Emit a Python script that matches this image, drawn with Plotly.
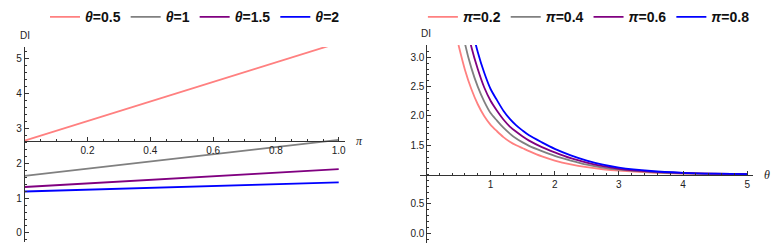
import plotly.graph_objects as go

# ---------------- data ----------------
# Left panel: DI vs pi for several theta
pi_vals = [0.0, 1.0]
left_names = ["θ=0.5", "θ=1", "θ=1.5", "θ=2"]
di_theta05 = [2.65, 5.46]
di_theta1 = [1.64, 2.67]
di_theta15 = [1.32, 1.83]
di_theta2 = [1.19, 1.45]

# Right panel: DI vs theta for several pi
theta_vals = [0.5, 0.6, 0.7, 0.8, 0.9, 1.0, 1.1, 1.2, 1.3, 1.4, 1.5, 1.6, 1.8, 2.0,
              2.25, 2.5, 2.75, 3.0, 3.5, 4.0, 4.5, 5.0]
right_names = ["π=0.2", "π=0.4", "π=0.6", "π=0.8"]
di_pi02 = [3.21, 2.79, 2.46, 2.20, 2.00, 1.85, 1.74, 1.64, 1.56, 1.50, 1.45, 1.40, 1.31, 1.24,
           1.175, 1.127, 1.092, 1.067, 1.035, 1.019, 1.010, 1.005]
di_pi04 = [3.90, 3.24, 2.82, 2.50, 2.25, 2.05, 1.92, 1.80, 1.70, 1.615, 1.55, 1.49, 1.40, 1.32,
           1.24, 1.17, 1.12, 1.085, 1.045, 1.024, 1.013, 1.007]
di_pi06 = [4.50, 3.69, 3.18, 2.80, 2.49, 2.26, 2.09, 1.94, 1.82, 1.73, 1.65, 1.58, 1.47, 1.38,
           1.28, 1.205, 1.145, 1.10, 1.053, 1.028, 1.015, 1.008]
di_pi08 = [5.10, 4.20, 3.55, 3.09, 2.74, 2.46, 2.27, 2.09, 1.95, 1.84, 1.75, 1.67, 1.55, 1.44,
           1.33, 1.24, 1.17, 1.12, 1.062, 1.032, 1.017, 1.009]

colors = ["#ff8080", "#808080", "#800080", "#0000ff"]

left_series = [di_theta05, di_theta1, di_theta15, di_theta2]
right_series = [di_pi02, di_pi04, di_pi06, di_pi08]

left_xticks = [0.2, 0.4, 0.6, 0.8, 1.0]
left_xticklabels = ["0.2", "0.4", "0.6", "0.8", "1.0"]
left_yticks = [0, 1, 2, 3, 4, 5]
right_xticks = [1, 2, 3, 4, 5]
right_yticks = [0.0, 0.5, 1.5, 2.0, 2.5, 3.0]
right_yticklabels = ["0.0", "0.5", "1.5", "2.0", "2.5", "3.0"]

# ---------------- layout geometry ----------------
W, H = 780, 247
lx_dom = [24.7 / W, 345 / W]
ly_dom = [1 - 242 / H, 1 - 47 / H]
rx_dom = [420 / W, 753 / W]
ry_dom = [1 - 243 / H, 1 - 45 / H]
lx_rng = [0.0, 1.02]
ly_rng = [-0.26, 5.34]
rx_rng = [-0.10, 5.09]
ry_rng = [-0.165, 3.21]
left_cross_y = 2.65
right_cross_y = 1.0


def frac(v, rng, dom):
    return dom[0] + (v - rng[0]) / (rng[1] - rng[0]) * (dom[1] - dom[0])


fig = go.Figure()
for name, ys, c in zip(left_names, left_series, colors):
    fig.add_trace(go.Scatter(x=pi_vals, y=ys, mode="lines", name="<b><i>θ</i>=" + name.split("=")[1] + "</b>",
                             line=dict(color=c, width=1.8), xaxis="x", yaxis="y", legend="legend"))
for name, ys, c in zip(right_names, right_series, colors):
    fig.add_trace(go.Scatter(x=theta_vals, y=ys, mode="lines", name="<b><i>π</i>=" + name.split("=")[1] + "</b>",
                             line=dict(color=c, width=1.8, shape="spline", smoothing=0.8),
                             xaxis="x2", yaxis="y2", legend="legend2"))

tickfont = dict(family="Liberation Sans, Arial, sans-serif", size=10, color="#222")
axcommon = dict(showline=True, linecolor="#333", linewidth=1, showgrid=False, zeroline=False,
                ticks="inside", ticklen=4, tickcolor="#333", tickfont=tickfont, fixedrange=True)

fig.update_layout(
    width=W, height=H,
    margin=dict(l=0, r=0, t=0, b=0),
    paper_bgcolor="white", plot_bgcolor="white",
    font=dict(family="Liberation Sans, Arial, sans-serif"),
    xaxis=dict(domain=lx_dom, range=lx_rng, anchor="free", position=frac(left_cross_y, ly_rng, ly_dom),
               tickmode="array", tickvals=left_xticks, ticktext=left_xticklabels,
               minor=dict(ticks="inside", ticklen=2, tickmode="linear", tick0=0, dtick=0.05, tickcolor="#333"),
               **axcommon),
    yaxis=dict(domain=ly_dom, range=ly_rng, anchor="x",
               tickmode="array", tickvals=left_yticks,
               minor=dict(ticks="inside", ticklen=2, tickmode="linear", tick0=0, dtick=0.2, tickcolor="#333"),
               **axcommon),
    xaxis2=dict(domain=rx_dom, range=rx_rng, anchor="free", position=frac(right_cross_y, ry_rng, ry_dom),
                tickmode="array", tickvals=right_xticks,
                minor=dict(ticks="inside", ticklen=2, tickmode="linear", tick0=0, dtick=0.2, tickcolor="#333"),
                **axcommon),
    yaxis2=dict(domain=ry_dom, range=ry_rng, anchor="free", position=frac(0, rx_rng, rx_dom),
                tickmode="array", tickvals=right_yticks, ticktext=right_yticklabels,
                minor=dict(ticks="inside", ticklen=2, tickmode="linear", tick0=0, dtick=0.1, tickcolor="#333"),
                **axcommon),
    legend=dict(orientation="h", x=0.25, xanchor="center", y=0.995, yanchor="top",
                font=dict(size=14, color="#111"), itemwidth=30, bgcolor="rgba(0,0,0,0)"),
    legend2=dict(orientation="h", x=0.755, xanchor="center", y=0.995, yanchor="top",
                 font=dict(size=14, color="#111"), itemwidth=30, bgcolor="rgba(0,0,0,0)"),
    showlegend=True,
)

annfont = dict(family="Liberation Sans, Arial, sans-serif", size=10, color="#222")
fig.add_annotation(text="DI", xref="paper", yref="paper", x=lx_dom[0], y=ly_dom[1] + 0.015,
                   xanchor="center", yanchor="bottom", showarrow=False, font=annfont)
fig.add_annotation(text="DI", xref="paper", yref="paper", x=frac(0, rx_rng, rx_dom), y=ry_dom[1] + 0.015,
                   xanchor="center", yanchor="bottom", showarrow=False, font=annfont)
fig.add_annotation(text="<i>π</i>", xref="paper", yref="paper", x=lx_dom[1] + 0.012,
                   y=frac(left_cross_y, ly_rng, ly_dom), xanchor="left", yanchor="middle",
                   showarrow=False, font=dict(family="Liberation Serif, serif", size=12, color="#222"))
fig.add_annotation(text="<i>θ</i>", xref="paper", yref="paper", x=rx_dom[1] + 0.012,
                   y=frac(right_cross_y, ry_rng, ry_dom), xanchor="left", yanchor="middle",
                   showarrow=False, font=dict(family="Liberation Serif, serif", size=12, color="#222"))

fig.write_html("out.html", config={"displayModeBar": False, "staticPlot": True},
               post_script="document.body.style.margin='0';document.body.style.padding='0';")
